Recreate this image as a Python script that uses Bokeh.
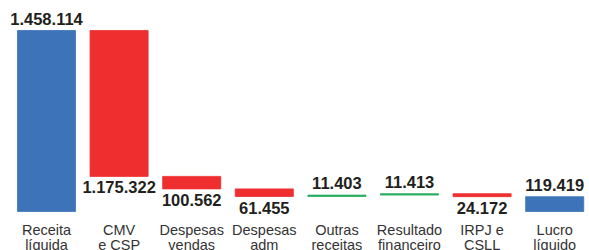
from bokeh.plotting import figure
from bokeh.models import Range1d
from bokeh.core.properties import value
from bokeh.embed import file_html
from bokeh.resources import INLINE

# ---- data ----
line1 = ["Receita", "CMV", "Despesas", "Despesas", "Outras", "Resultado", "IRPJ e", "Lucro"]
line2 = ["líquida", "e CSP", "vendas", "adm", "receitas", "financeiro", "CSLL", "líquido"]
values = [1458114, 1175322, 100562, 61455, 11403, 11413, 24172, 119419]
kinds = ["total", "neg", "neg", "neg", "pos", "pos", "neg", "total"]

colors = {"total": "#3d73b9", "neg": "#ee2e2f", "pos": "#27ad5f"}

def fmt(v):
    return f"{v:,}".replace(",", ".")

xs, bottoms, tops, cols = [], [], [], []
up_x, up_y, up_t = [], [], []
dn_x, dn_y, dn_t = [], [], []
running = 0
for i, (v, k) in enumerate(zip(values, kinds)):
    if k == "total":
        b, t = 0, v
        running = v
        up_x.append(i); up_y.append(t); up_t.append(fmt(v))
    elif k == "neg":
        b, t = running - v, running
        running -= v
        dn_x.append(i); dn_y.append(b); dn_t.append(fmt(v))
    else:
        b, t = running, running + v
        running += v
        up_x.append(i); up_y.append(t); up_t.append(fmt(v))
    xs.append(i); bottoms.append(b); tops.append(t); cols.append(colors[k])

W, H = 589, 250
px_per_unit_x = 72.6
x_start = -46 / px_per_unit_x
x_end = x_start + W / px_per_unit_x
scale = 181 / values[0]
y_start = -39 / scale
y_end = (H - 39) / scale

p = figure(width=W, height=H, output_backend="svg", toolbar_location=None,
           x_range=Range1d(x_start, x_end), y_range=Range1d(y_start, y_end),
           min_border=0, outline_line_color=None)
p.xaxis.visible = False
p.yaxis.visible = False
p.xgrid.visible = False
p.ygrid.visible = False
p.background_fill_color = "white"
p.border_fill_color = "white"

bw = 0.4
p.quad(left=[x - bw for x in xs], right=[x + bw for x in xs], bottom=bottoms, top=tops,
       fill_color=cols, line_color=cols, line_width=0.8)

font = value("Liberation Sans")
p.text(x=up_x, y=up_y, text=up_t, text_font=font, text_font_size="16.5px",
       text_font_style="bold", text_color="#231f20", text_align="center",
       text_baseline="alphabetic", y_offset=-12)
p.text(x=dn_x, y=dn_y, text=dn_t, text_font=font, text_font_size="16.5px",
       text_font_style="bold", text_color="#231f20", text_align="center",
       text_baseline="alphabetic", y_offset=11)

zero = [0] * len(xs)
p.text(x=xs, y=zero, text=line1, text_font=font, text_font_size="14.5px",
       text_color="#333333", text_align="center", text_baseline="alphabetic", y_offset=18)
p.text(x=xs, y=zero, text=line2, text_font=font, text_font_size="14.5px",
       text_color="#333333", text_align="center", text_baseline="alphabetic", y_offset=33)

open("out.html", "w").write(file_html(p, INLINE))
